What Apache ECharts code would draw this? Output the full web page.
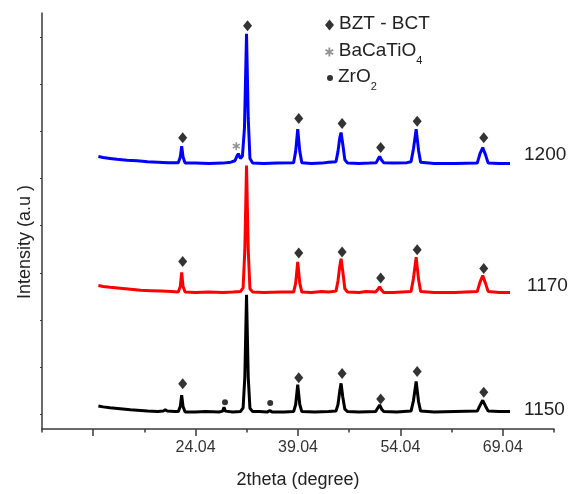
<!DOCTYPE html>
<html><head><meta charset="utf-8">
<script src="https://cdn.jsdelivr.net/npm/echarts@6/dist/echarts.min.js"></script>
<style>html,body{margin:0;padding:0;background:#fff}#c{width:577px;height:494px}</style>
</head><body><div id="c"></div>
<script>
// 2theta (degree) / intensity (a.u., traces already vertically stacked)
const trace1150 = [[9.8,49],[10.5,47],[11.5,45],[13.0,43],[14.5,41],[15.5,40],[17.0,38],[18.5,37],[19.3,38],[19.6,41],[19.9,38],[21.0,37],[21.5,37],[21.8,48],[22.0,72],[22.2,48],[22.5,36],[24.0,36],[25.5,37],[27.5,36],[28.0,38],[28.2,46],[28.4,38],[29.5,36],[30.6,37],[31.0,45],[31.25,110],[31.5,285],[31.75,110],[32.0,44],[32.4,37],[32.9,37],[33.1,41],[33.4,37],[34.5,36],[34.9,39],[35.3,36],[37.0,36],[38.4,37],[38.7,52],[39.0,94],[39.3,52],[39.6,37],[41.5,36],[43.5,37],[44.6,38],[44.9,52],[45.15,80],[45.35,97],[45.6,68],[45.9,42],[46.3,37],[48.0,36],[50.4,37],[50.7,44],[51.0,51],[51.3,42],[51.6,37],[53.5,36],[55.6,38],[55.95,60],[56.35,101],[56.7,58],[57.0,38],[59.0,36],[62.0,37],[65.3,38],[65.7,50],[66.1,61],[66.5,49],[66.9,38],[68.5,37],[70.1,37]];
const trace1170 = [[9.8,305],[10.5,303],[11.5,301],[13.0,299],[14.5,297],[16.0,295],[17.5,294],[19.0,293],[20.5,292],[21.5,291],[21.8,303],[22.0,333],[22.2,303],[22.5,291],[24.0,290],[26.0,291],[28.0,290],[29.5,291],[30.6,292],[31.0,300],[31.25,380],[31.5,560],[31.75,380],[32.0,298],[32.4,291],[34.0,290],[36.5,291],[38.4,291],[38.7,310],[39.0,355],[39.3,310],[39.6,291],[41.0,290],[42.5,292],[43.5,291],[44.6,293],[44.9,315],[45.15,345],[45.35,362],[45.6,335],[45.9,298],[46.3,291],[48.0,290],[49.0,292],[50.4,291],[50.7,296],[51.0,302],[51.3,295],[51.6,290],[53.0,290],[55.6,292],[55.95,320],[56.35,365],[56.7,318],[57.0,292],[59.0,290],[62.0,290],[65.3,292],[65.7,312],[66.1,326],[66.5,310],[66.9,292],[68.5,290],[70.1,290]];
const trace1200 = [[9.8,579],[10.5,577],[11.5,575],[12.5,573],[14.0,571],[15.5,570],[17.0,568],[18.5,567],[20.0,566],[21.5,566],[21.8,578],[22.0,601],[22.2,578],[22.5,565],[24.0,565],[26.0,564],[28.0,565],[29.2,567],[29.8,570],[30.1,580],[30.3,585],[30.6,575],[30.9,580],[31.2,640],[31.5,840],[31.75,660],[32.0,575],[32.4,565],[34.0,564],[36.0,565],[38.4,566],[38.7,590],[39.0,637],[39.3,590],[39.6,566],[41.0,564],[42.5,565],[43.5,567],[44.6,568],[44.9,590],[45.15,618],[45.35,630],[45.6,605],[45.9,572],[46.3,565],[48.0,564],[49.5,565],[50.5,566],[50.75,573],[51.0,579],[51.3,571],[51.6,566],[53.0,565],[55.0,566],[55.6,568],[55.95,595],[56.35,637],[56.7,592],[57.0,567],[59.0,564],[62.0,564],[65.3,565],[65.7,585],[66.1,598],[66.5,583],[66.9,565],[68.5,564],[70.1,564]];
// phase markers
const bztMarks = [[22.15,619],[31.65,857],[39.15,660],[45.5,649],[51.15,598],[56.5,654],[66.25,619],
                  [22.15,356],[39.15,374],[45.5,376],[51.15,321],[56.5,381],[66.25,341],
                  [22.15,96],[39.15,109],[45.5,118],[51.15,64],[56.5,122],[66.25,78]];
const bctoMarks = [[30.0,601]];
const zro2Marks = [[28.35,57],[34.97,55]];
// axis ticks / labels
const xMajorTicks = [9.04,24.04,39.04,54.04,69.04];
const xLabels = [24.04,39.04,54.04,69.04];
const xMinorTicks = [1.54,16.54,31.54,46.54,61.54,76.54];
const yTicks = [32,132,232,332,432,532,632,732,832];
const seriesNames = ['1150','1170','1200'];

const FONT = '"Liberation Sans", Arial, sans-serif';
const TXT = '#222';
const AX = '#3a3a3a';
const star = 'path://M-1,-5L1,-5L1,5L-1,5Z M3.83,-3.37L4.83,-1.63L-3.83,3.37L-4.83,1.63Z M4.83,1.63L3.83,3.37L-4.83,-1.63L-3.83,-3.37Z';

const chart = echarts.init(document.getElementById('c'), null, {renderer:'canvas'});
const lineSeries = (name, data, color, off) => ({
  name, type:'line', data, symbol:'none', animation:false,
  lineStyle:{color, width:3}, itemStyle:{color}, z:2,
  endLabel:{show:true, formatter:name, distance:off[0], offset:[0,off[1]], fontSize:19, fontFamily:FONT, color:TXT}
});
const legendRich = {
  b:{fontSize:19, lineHeight:22, verticalAlign:'top', fontFamily:FONT, color:TXT},
  s:{fontSize:11, lineHeight:11, verticalAlign:'top', padding:[14,0,0,0], fontFamily:FONT, color:TXT}
};
chart.setOption({
  animation:false,
  grid:{left:42, right:23, top:13, bottom:63},
  xAxis:[{
    type:'value', min:1.54, max:76.54,
    name:'2theta (degree)', nameLocation:'middle', nameGap:42,
    nameTextStyle:{fontSize:18, fontFamily:FONT, color:TXT},
    axisLine:{show:true, lineStyle:{color:AX, width:1.5}},
    axisTick:{show:true, customValues:xMajorTicks, length:7, lineStyle:{color:AX, width:1.5}},
    axisLabel:{customValues:xLabels, formatter:v=>v.toFixed(2), fontSize:16, fontFamily:FONT, color:'#333', margin:11},
    splitLine:{show:false}
  },{
    type:'value', min:1.54, max:76.54, position:'bottom',
    axisLine:{show:false},
    axisTick:{show:true, customValues:xMinorTicks, length:3.5, lineStyle:{color:AX, width:1.5}},
    axisLabel:{show:false}, splitLine:{show:false}
  }],
  yAxis:{
    type:'value', min:0, max:884,
    name:'Intensity (a.u )', nameLocation:'middle', nameGap:8,
    nameTextStyle:{fontSize:18, fontFamily:FONT, color:TXT, padding:[0,42,0,0]},
    axisLine:{show:true, lineStyle:{color:AX, width:1.5}},
    axisTick:{show:true, customValues:yTicks, length:2, lineStyle:{color:AX, width:1}},
    axisLabel:{show:false}, splitLine:{show:false}
  },
  legend:[
    {data:['BZT - BCT'], left:320, top:9, itemWidth:9, itemHeight:11, orient:'vertical',
     formatter:()=>'{b|BZT - BCT}', textStyle:{rich:legendRich}},
    {data:['BaCaTiO4'], left:320, top:36, itemWidth:9, itemHeight:9, orient:'vertical',
     formatter:()=>'{b|BaCaTiO}{s|4}', textStyle:{rich:legendRich}},
    {data:['ZrO2'], left:322, top:62, itemWidth:6, itemHeight:6, orient:'vertical',
     formatter:()=>'{b|ZrO}{s|2}', textStyle:{rich:legendRich}}
  ],
  series:[
    lineSeries(seriesNames[0], trace1150, '#000000', [14,-2]),
    lineSeries(seriesNames[1], trace1170, '#ff0000', [17,-7]),
    lineSeries(seriesNames[2], trace1200, '#0000ff', [14,-9]),
    {name:'BZT - BCT', type:'scatter', data:bztMarks, symbol:'diamond', symbolSize:[9,11], itemStyle:{color:'#000'}, z:5},
    {name:'BaCaTiO4', type:'scatter', data:bctoMarks, symbol:star, symbolSize:8, symbolKeepAspect:true, itemStyle:{color:'#777'}, z:5},
    {name:'ZrO2', type:'scatter', data:zro2Marks, symbol:'circle', symbolSize:6, itemStyle:{color:'#000'}, z:5}
  ]
});
</script></body></html>
